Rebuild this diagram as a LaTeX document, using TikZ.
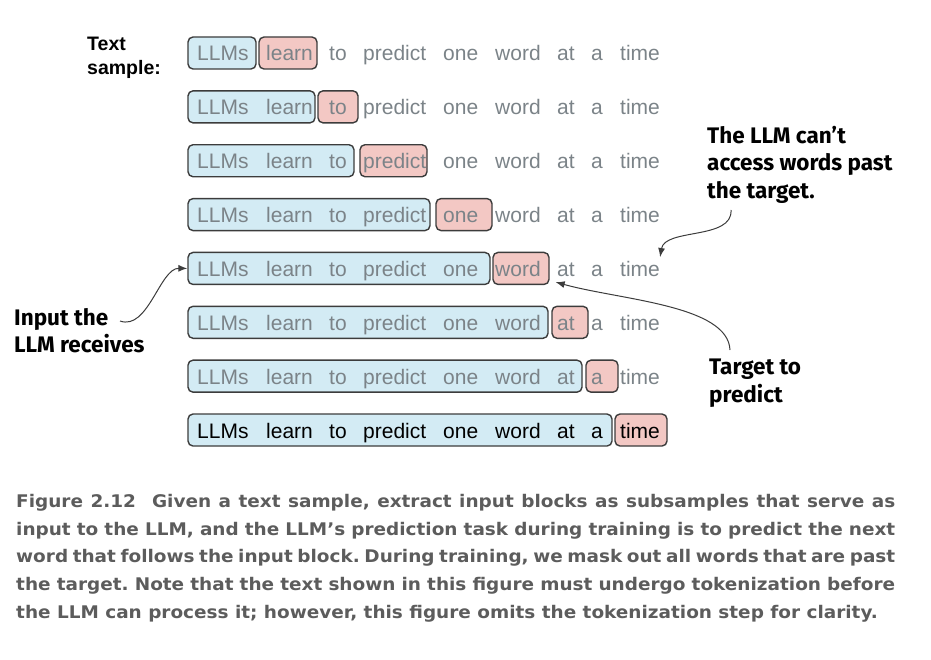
\documentclass[tikz,border=0pt]{standalone}
\usepackage{fontspec}
\setmainfont{Liberation Sans}
\newfontfamily\notefont{Fira Sans}
\newfontfamily\capfont[FakeStretch=1.06]{DejaVu Sans}
\usetikzlibrary{arrows.meta,fit}

\definecolor{inblue}{HTML}{D3EBF4}
\definecolor{tgpink}{HTML}{F3C8C4}
\definecolor{wordgrey}{HTML}{7B8388}
\definecolor{capgrey}{HTML}{5C5C5C}
\definecolor{boxline}{HTML}{3C3C3C}

\tikzset{
  inbox/.style={draw=boxline, line width=1.4pt, rounded corners=5pt, fill=inblue, inner sep=0pt},
  tgbox/.style={inbox, fill=tgpink},
  word/.style={anchor=base west, inner sep=0pt, font=\fontsize{21}{25}\selectfont},
  note/.style={align=left, anchor=north west, inner sep=0pt, font=\notefont\bfseries\fontsize{22.5}{27.5}\selectfont},
  pointer/.style={-{Latex[length=9pt,width=7pt]}, line width=1pt, draw=boxline}
}

\begin{document}
\frenchspacing
\begin{tikzpicture}[x=1pt, y=-1pt]
    \useasboundingbox (0,0) rectangle (931,660);

    % one row per training step: input block + target word
    \foreach \row/\br/\pl/\pr in {1/256/259/317, 2/315/318/358, 3/354/360/427, 4/430/436/492,
                                  5/490/493/549, 6/548/552/588, 7/582/586/618, 8/612/615/667}{
        \pgfmathsetmacro\yc{53+53.86*(\row-1)}
        \node[inbox, fit={(188,\yc-16) (\br,\yc+16)}] (in\row) {};
        \node[tgbox, fit={(\pl,\yc-16) (\pr,\yc+16)}] (tg\row) {};
        \ifnum\row=8 \def\wcol{black}\else \def\wcol{wordgrey}\fi
        \foreach \x/\w [count=\i] in {197/LLMs, 266/learn, 329/to, 363/predict, 443/one,
                                      495/word, 557/at, 591/a, 620/time}
            \node[word, text=\wcol] (w\row-\i) at (\x,\yc+8) {\w};
    }

    \node[align=left, anchor=north west, inner sep=0pt, font=\fontsize{19.5}{24}\bfseries]
        (sample) at (87,37) {Text\\sample:};

    \node[note] (cant) at (707,126) {The LLM can’t\\access words past\\the target.};
    \node[note] (input) at (14,308) {Input the\\LLM receives};
    \node[note] (target) at (709,359) {Target to\\predict};

    \coordinate (canttail) at (731,210);
    \coordinate (inputtail) at (120,321);
    \coordinate (targettail) at (730,350);

    \draw[pointer] (canttail) .. controls (733,240) and (665,228) .. ([yshift=4pt]w5-9.north east);
    \draw[pointer] (inputtail) .. controls (148,331) and (160,268) .. (in5.west);
    \draw[pointer] (targettail) .. controls (728,305) and (620,300) .. ([xshift=6pt,yshift=3pt]tg5.south east);

    \node[anchor=north west, inner sep=0pt, text width=879pt, align=justify, text=capgrey,
          font=\capfont\bfseries\fontsize{17.4}{27.7}\selectfont] (caption) at (16,494)
        {Figure 2.12\hspace{16pt}Given a text sample, extract input blocks as subsamples that serve as\linebreak
         input to the LLM, and the LLM’s prediction task during training is to predict the next\linebreak
         word that follows the input block. During training, we mask out all words that are past\linebreak
         the target. Note that the text shown in this figure must undergo tokenization before\linebreak
         the LLM can process it; however, this figure omits the tokenization step for clarity.};
\end{tikzpicture}
\end{document}
